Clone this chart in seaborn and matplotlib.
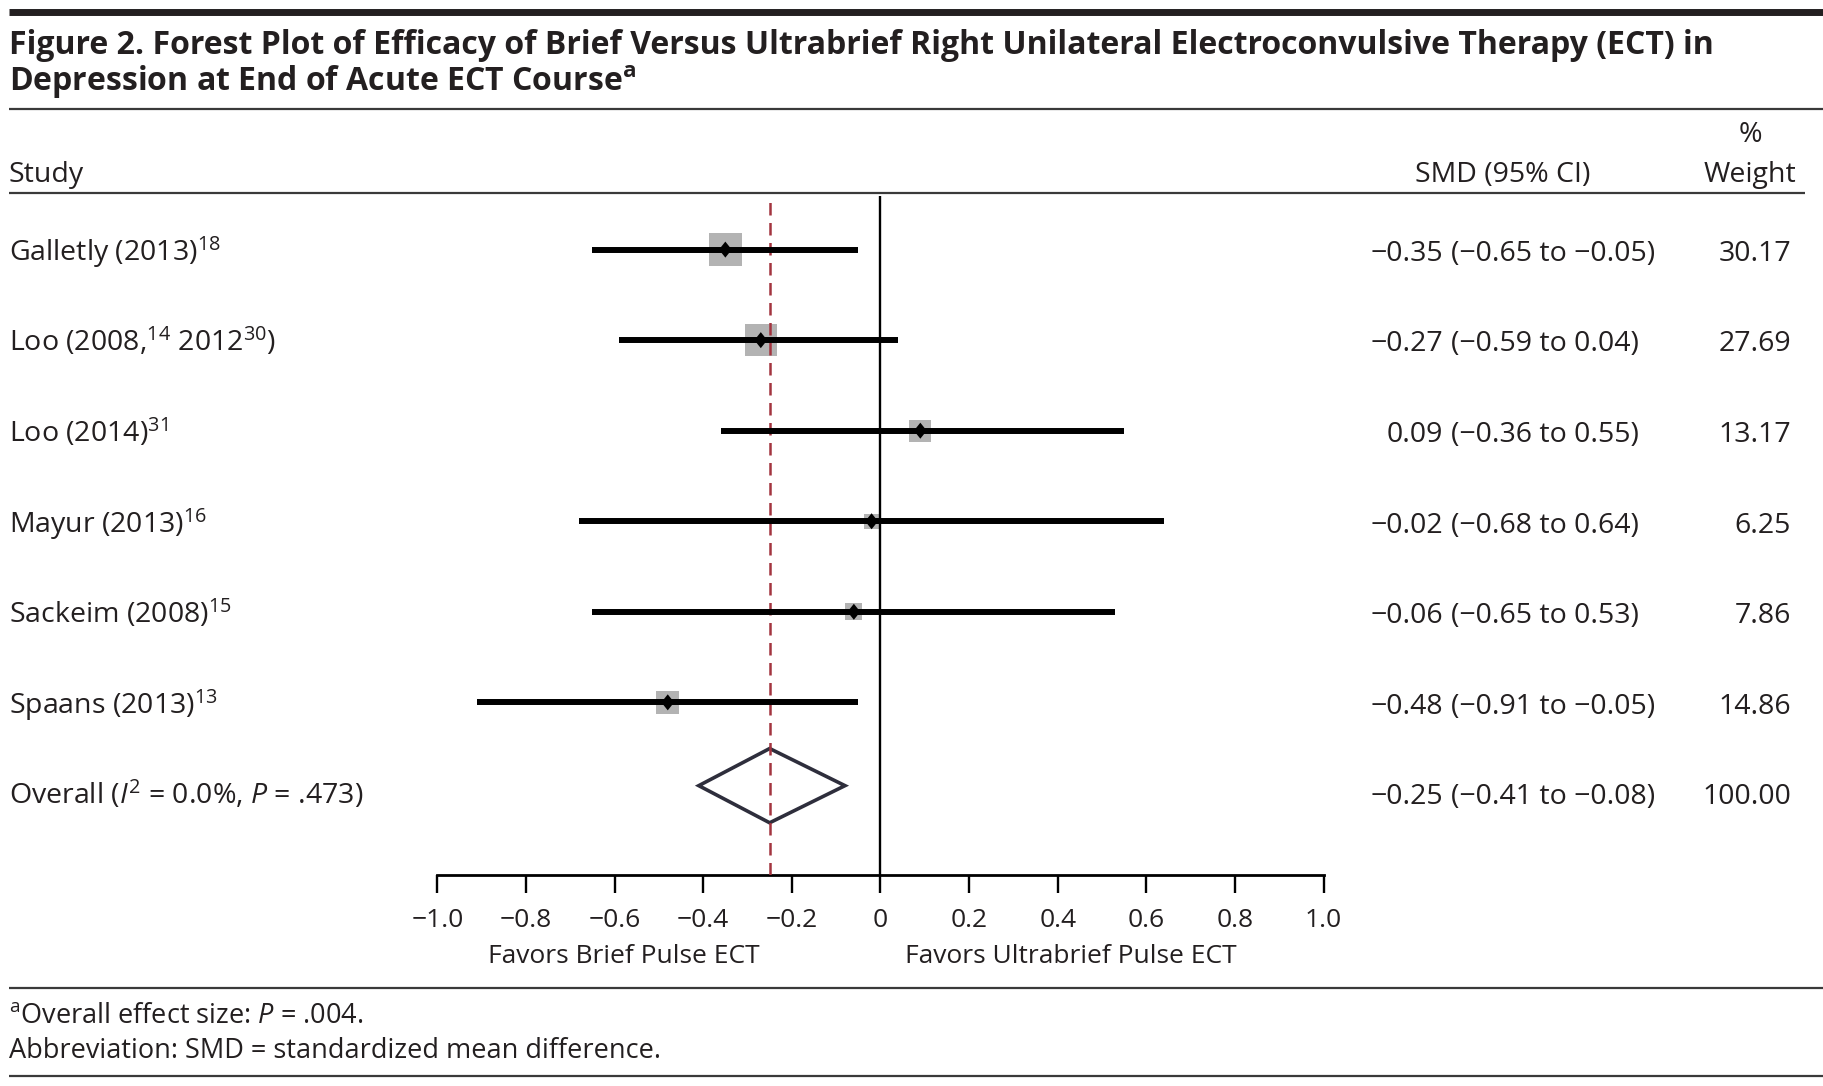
import matplotlib.pyplot as plt
import seaborn as sns
import numpy as np
import pandas as pd

from matplotlib.lines import Line2D
from matplotlib.transforms import blended_transform_factory

# -------------------------
# Data
# -------------------------

study_labels = [
    r'Galletly (2013)$^{\mathregular{18}}$',
    r'Loo (2008,$^{\mathregular{14}}$ 2012$^{\mathregular{30}}$)',
    r'Loo (2014)$^{\mathregular{31}}$',
    r'Mayur (2013)$^{\mathregular{16}}$',
    r'Sackeim (2008)$^{\mathregular{15}}$',
    r'Spaans (2013)$^{\mathregular{13}}$',
]

smd = [-0.35, -0.27, 0.09, -0.02, -0.06, -0.48]
ci_low = [-0.65, -0.59, -0.36, -0.68, -0.65, -0.91]
ci_high = [-0.05, 0.04, 0.55, 0.64, 0.53, -0.05]
weights = [30.17, 27.69, 13.17, 6.25, 7.86, 14.86]

overall_label = (
    r'Overall ($\mathit{I}^{\mathregular{2}}$ = 0.0%, '
    r'$\mathit{P}$ = .473)'
)
overall_smd = -0.25
overall_low = -0.41
overall_high = -0.08
overall_weight = 100.00

tick_values = [-1.0, -0.8, -0.6, -0.4, -0.2, 0, 0.2, 0.4, 0.6, 0.8, 1.0]
tick_labels = ['\u22121.0', '\u22120.8', '\u22120.6', '\u22120.4', '\u22120.2',
               '0', '0.2', '0.4', '0.6', '0.8', '1.0']

W, H = 1824, 1086
TEXT = '#231f20'


def fx(px):
    return px / W


def fy(px):
    return 1 - px / H


def fmt(v):
    return f'{v:.2f}'.replace('-', '\u2212')


df = pd.DataFrame({
    'study': study_labels,
    'smd': smd,
    'low': ci_low,
    'high': ci_high,
    'weight': weights,
})
df['row'] = np.arange(len(df))
overall_row = len(df)

sns.set_theme(style='white')
plt.rcParams['font.family'] = ['Open Sans', 'DejaVu Sans']
plt.rcParams['mathtext.fontset'] = 'custom'
plt.rcParams['mathtext.rm'] = 'Open Sans'
plt.rcParams['mathtext.it'] = 'Open Sans:italic'
plt.rcParams['mathtext.bf'] = 'Open Sans:bold'

fig = plt.figure(
    figsize=(W / 100, H / 100),
    dpi=100
)

# axes placed so that -1..1 and the rows land where the table needs them
ax_left, ax_right = 437.3, 1323.6
ax_top, ax_bottom = 196, 874.7
row0, row_step = 249.6, 90.55

ax = fig.add_axes([
    fx(ax_left),
    fy(ax_bottom),
    (ax_right - ax_left) / W,
    (ax_bottom - ax_top) / H
])

# -------------------------
# Forest marks
# -------------------------

w_min, w_max = min(weights), max(weights)
area_per_weight = 18.7

sns.scatterplot(
    data=df,
    x='smd',
    y='row',
    size='weight',
    sizes=(area_per_weight * w_min, area_per_weight * w_max),
    size_norm=(w_min, w_max),
    marker='s',
    color='#b3b3b3',
    edgecolor='none',
    linewidth=0,
    legend=False,
    ax=ax,
    zorder=2
)

ax.hlines(
    df['row'],
    df['low'],
    df['high'],
    color='black',
    linewidth=4.3,
    zorder=4
)

sns.scatterplot(
    data=df,
    x='smd',
    y='row',
    marker=[(0, 1), (0.8, 0), (0, -1), (-0.8, 0), (0, 1)],
    s=133,
    color='black',
    edgecolor='none',
    linewidth=0,
    legend=False,
    ax=ax,
    zorder=5
)

dy = 0.41
yc = overall_row - 0.08
ax.fill(
    [overall_low, overall_smd, overall_high, overall_smd],
    [yc, yc - dy, yc, yc + dy],
    facecolor='white',
    edgecolor='#2e2e3c',
    linewidth=2.6,
    joinstyle='miter',
    zorder=2.5
)

ax.axvline(
    0,
    color='black',
    linewidth=1.7,
    zorder=3
)

ax.axvline(
    overall_smd,
    color='#a3343f',
    linewidth=1.8,
    dashes=(5, 3),
    zorder=3
)

ax.set_xlim(-1, 1)
ax.set_ylim(
    (ax_bottom - row0) / row_step,
    (ax_top - row0) / row_step
)
ax.set_xlabel('')
ax.set_ylabel('')
ax.set_yticks([])
ax.set_xticks(tick_values)
ax.set_xticklabels(tick_labels)
ax.tick_params(
    axis='x',
    direction='out',
    length=13,
    width=1.7,
    pad=11,
    labelsize=19,
    colors='black',
    labelcolor=TEXT,
    bottom=True
)
for side in ['top', 'left', 'right']:
    ax.spines[side].set_visible(False)
ax.spines['bottom'].set_linewidth(2.0)
ax.spines['bottom'].set_color('black')
ax.patch.set_alpha(0)

# -------------------------
# Table text
# -------------------------

row_tr = blended_transform_factory(fig.transFigure, ax.transData)
base = 0.125
body = 20.5

for i, r in df.iterrows():
    y = r['row'] + base
    ax.text(fx(9), y, r['study'], transform=row_tr,
            ha='left', va='baseline', fontsize=body, color=TEXT)
    ax.text(fx(1443), y, fmt(r['smd']), transform=row_tr,
            ha='right', va='baseline', fontsize=body, color=TEXT)
    ax.text(fx(1451), y, f"({fmt(r['low'])} to {fmt(r['high'])})",
            transform=row_tr, ha='left', va='baseline',
            fontsize=body, color=TEXT)
    ax.text(fx(1791), y, f"{r['weight']:.2f}", transform=row_tr,
            ha='right', va='baseline', fontsize=body, color=TEXT)

y = overall_row + base
ax.text(fx(9), y, overall_label, transform=row_tr,
        ha='left', va='baseline', fontsize=body, color=TEXT)
ax.text(fx(1443), y, fmt(overall_smd), transform=row_tr,
        ha='right', va='baseline', fontsize=body, color=TEXT)
ax.text(fx(1451), y, f'({fmt(overall_low)} to {fmt(overall_high)})',
        transform=row_tr, ha='left', va='baseline',
        fontsize=body, color=TEXT)
ax.text(fx(1791), y, f'{overall_weight:.2f}', transform=row_tr,
        ha='right', va='baseline', fontsize=body, color=TEXT)

# favors labels under the axis
fav_tr = blended_transform_factory(ax.transData, fig.transFigure)
ax.text(-0.58, fy(963), 'Favors Brief Pulse ECT', transform=fav_tr,
        ha='center', va='baseline', fontsize=19, color=TEXT)
ax.text(0.43, fy(963), 'Favors Ultrabrief Pulse ECT', transform=fav_tr,
        ha='center', va='baseline', fontsize=19, color=TEXT)

# -------------------------
# Title, headers, rules, notes
# -------------------------

fig.text(fx(9), fy(54),
         'Figure 2. Forest Plot of Efficacy of Brief Versus Ultrabrief '
         'Right Unilateral Electroconvulsive Therapy (ECT) in',
         ha='left', va='baseline', fontsize=23, fontweight='bold',
         color=TEXT)
fig.text(fx(9), fy(91),
         r'Depression at End of Acute ECT Course$^{\mathregular{ a}}$',
         ha='left', va='baseline', fontsize=23, fontweight='bold',
         color=TEXT)

fig.text(fx(9), fy(182), 'Study', ha='left', va='baseline',
         fontsize=body, color=TEXT)
fig.text(fx(1503), fy(182), 'SMD (95% CI)', ha='center', va='baseline',
         fontsize=body, color=TEXT)
fig.text(fx(1750), fy(142), '%', ha='center', va='baseline',
         fontsize=body, color=TEXT)
fig.text(fx(1750), fy(182), 'Weight', ha='center', va='baseline',
         fontsize=body, color=TEXT)

fig.text(fx(9), fy(1023),
         r'$^{\mathregular{a}}$Overall effect size: $\mathit{P}$ = .004.',
         ha='left', va='baseline', fontsize=19.5, color=TEXT)
fig.text(fx(9), fy(1058),
         'Abbreviation: SMD = standardized mean difference.',
         ha='left', va='baseline', fontsize=19.5, color=TEXT)

rules = [
    (11.8, 9, W, 5.0, '#231f20'),
    (108.5, 9, W, 1.6, '#3a3a3a'),
    (193, 9, 1805, 1.6, '#3a3a3a'),
    (988, 9, W, 1.6, '#3a3a3a'),
    (1076, 9, W, 1.6, '#3a3a3a'),
]
for y_px, x0, x1, lw, col in rules:
    fig.add_artist(Line2D(
        [fx(x0), fx(x1)],
        [fy(y_px), fy(y_px)],
        transform=fig.transFigure,
        color=col,
        linewidth=lw,
        solid_capstyle='butt'
    ))

plt.savefig(
    'out.png',
    dpi=100
)

plt.close()
